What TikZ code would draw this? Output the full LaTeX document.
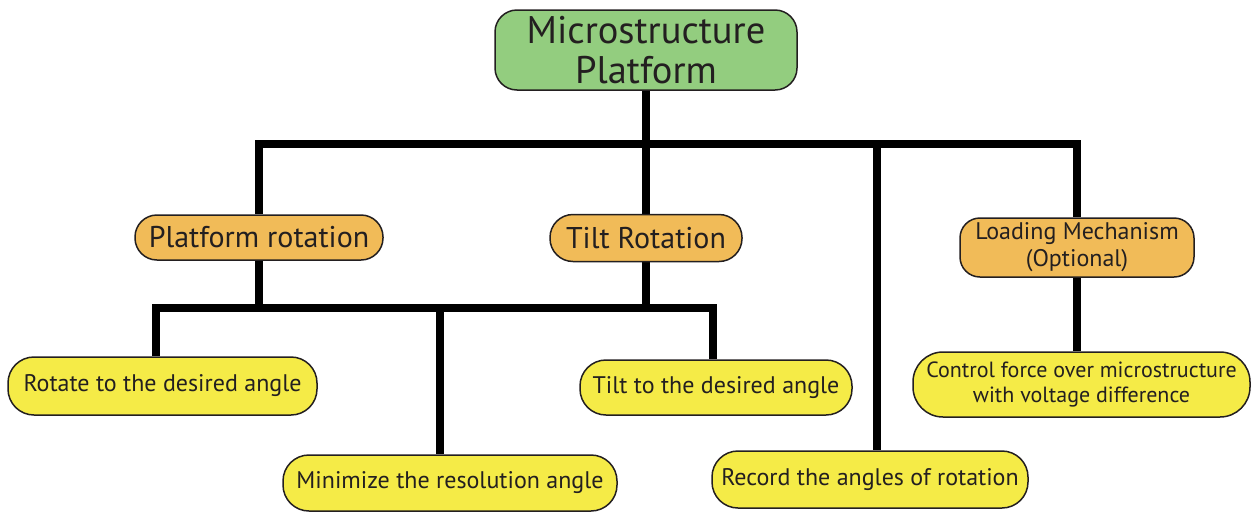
\documentclass[tikz,border=0pt]{standalone}
\usepackage{fontspec}
\setmainfont{PT Sans}
\usetikzlibrary{positioning, backgrounds}

\definecolor{rootgreen}{RGB}{147,205,127}
\definecolor{branchorange}{RGB}{241,187,88}
\definecolor{leafyellow}{RGB}{245,235,71}
\definecolor{inkdark}{RGB}{35,31,32}

\tikzset{
  box/.style={draw=inkdark, line width=1.5pt, text=inkdark, align=center, inner sep=0pt},
  rootbox/.style={box, fill=rootgreen, rounded corners=22pt, font=\fontsize{38.5}{40}\selectfont},
  branchbox/.style={box, fill=branchorange, rounded corners=20pt, font=\fontsize{30}{32}\selectfont},
  leafbox/.style={box, fill=leafyellow, rounded corners=26pt, font=\fontsize{24}{26}\selectfont},
  link/.style={line width=8pt, black},
}

\begin{document}
\begin{tikzpicture}[x=1pt, y=-1pt]
  \useasboundingbox (0,0) rectangle (1251,512);

  % top level
  \node[rootbox, minimum width=302pt, minimum height=80pt] (root) at (646,50) {Microstructure\\Platform};

  % second level
  \node[branchbox, rounded corners=22pt, minimum width=248pt, minimum height=45pt] (platrot) at (259,237.5) {Platform rotation};
  \node[branchbox, rounded corners=23pt, minimum width=192pt, minimum height=47pt] (tiltrot) at (646,238) {Tilt Rotation};
  \node[branchbox, minimum width=234pt, minimum height=59pt, font=\fontsize{24}{27}\selectfont] (loadmech) at (1077,247.5) {Loading Mechanism\\(Optional)};

  % leaves
  \node[leafbox, minimum width=309pt, minimum height=58pt] (rotdes) at (162.5,386) {Rotate to the desired angle};
  \node[leafbox, minimum width=272pt, minimum height=55pt] (tiltdes) at (716,387.5) {Tilt to the desired angle};
  \node[leafbox, minimum width=334pt, minimum height=56pt] (minres) at (450,483) {Minimize the resolution angle};
  \node[leafbox, minimum width=316pt, minimum height=57pt] (recang) at (870,479.5) {Record the angles of rotation};
  \node[leafbox, rounded corners=30pt, minimum width=337pt, minimum height=65pt, font=\fontsize{22}{25}\selectfont] (ctrlforce) at (1081.5,384.5) {Control force over microstructure\\with voltage difference};

  % bus lines and drops
  \coordinate (topbus) at (646,143.5);
  \coordinate (lowbus) at (646,307.5);
  \coordinate (recdrop) at (877,143.5);
  \coordinate (rotdrop) at (156,307.5);
  \coordinate (mindrop) at (440,307.5);
  \coordinate (tiltdrop) at (713,307.5);

  \begin{scope}[on background layer]
    \draw[link] (root) -- (root |- topbus);
    \draw[link] (platrot) |- (topbus) -| (loadmech);
    \draw[link] (tiltrot) -- (tiltrot |- topbus);
    \draw[link] (recdrop) -- (recdrop |- recang.north);
    \draw[link] (platrot) -- (platrot |- lowbus);
    \draw[link] (tiltrot) -- (tiltrot |- lowbus);
    \draw[link] (rotdrop |- rotdes.north) -- (rotdrop) -- (tiltdrop) -- (tiltdrop |- tiltdes.north);
    \draw[link] (mindrop) -- (mindrop |- minres.north);
    \draw[link] (loadmech) -- (loadmech |- ctrlforce.north);
  \end{scope}
\end{tikzpicture}
\end{document}
